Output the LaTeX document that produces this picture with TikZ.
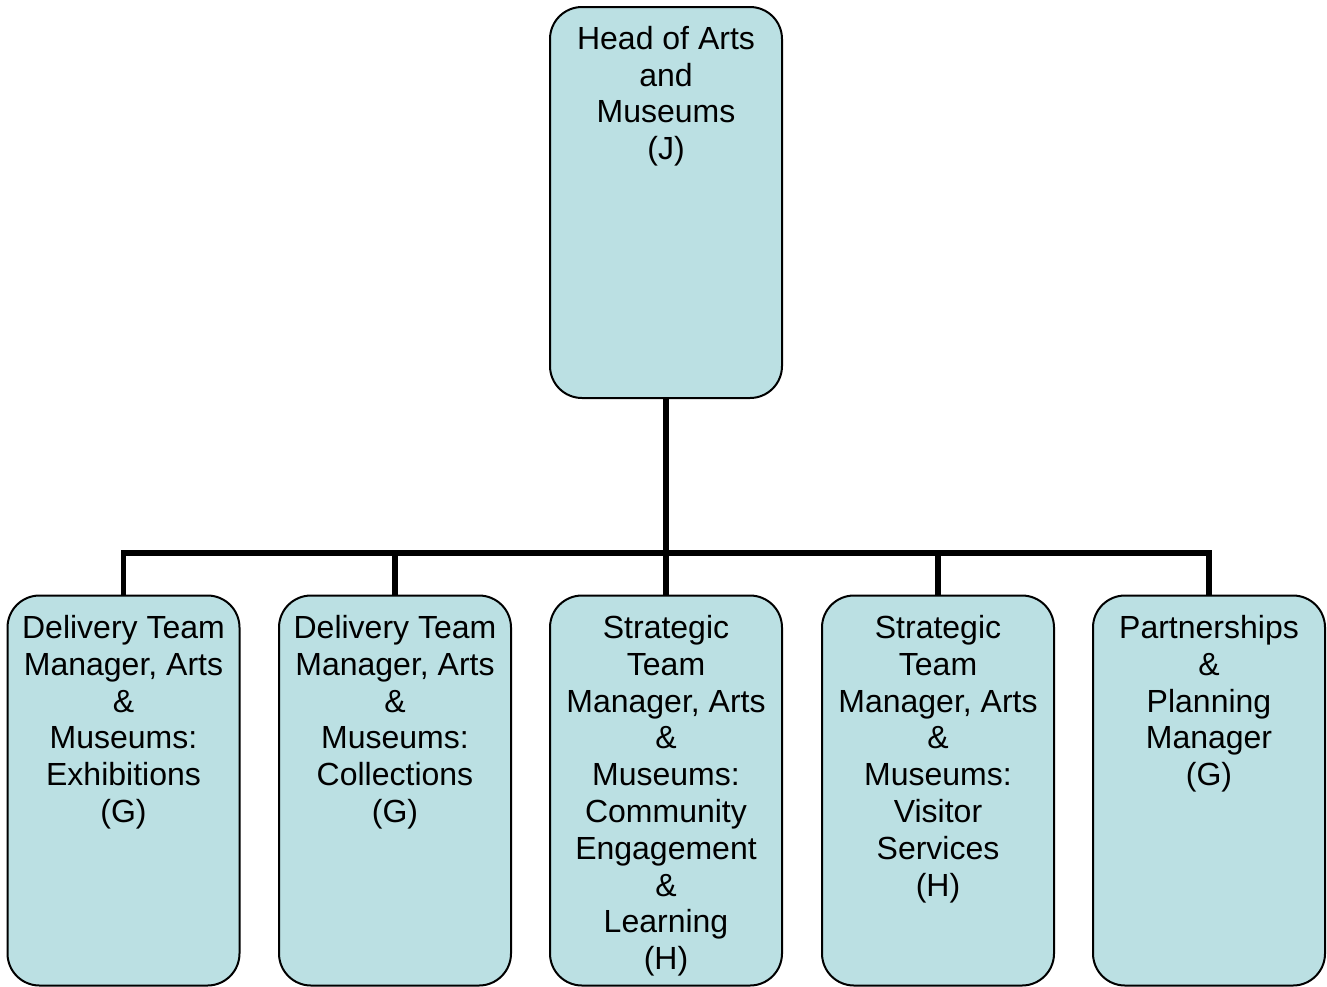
\documentclass[tikz,border=0pt]{standalone}
\usepackage{fontspec}
\setmainfont{Liberation Sans}
\definecolor{boxfill}{RGB}{187,224,227}
\begin{document}
\begin{tikzpicture}[x=1pt,y=-1pt,
  box/.style={draw=black,line width=2pt,fill=boxfill,rounded corners=32pt,
    minimum width=232pt,inner sep=0pt,outer sep=0pt},
  lbl/.style={anchor=north,align=center,inner sep=0pt,font=\fontsize{32}{36.8}\selectfont},
  conn/.style={line width=5.5pt,line join=miter}]
\useasboundingbox (0,0) rectangle (1327,986);
\node[box,minimum height=391pt] (top) at (666,202.5) {};
\node[box,minimum height=390pt] (b1) at (123.5,790.5) {};
\node[box,minimum height=390pt] (b2) at (395,790.5) {};
\node[box,minimum height=390pt] (b3) at (666,790.5) {};
\node[box,minimum height=390pt] (b4) at (938,790.5) {};
\node[box,minimum height=390pt] (b5) at (1209,790.5) {};
\coordinate (bus) at (666,553);
\draw[conn] (top.south) -- (top.south |- bus);
\draw[conn] (b1.north) -- (b1.north |- bus) -- (b5.north |- bus) -- (b5.north);
\draw[conn] (b2.north) -- (b2.north |- bus);
\draw[conn] (b3.north) -- (b3.north |- bus);
\draw[conn] (b4.north) -- (b4.north |- bus);
\node[lbl] (ttop) at ([yshift=-19pt]top.north) {Head of Arts\\and\\Museums\\(J)};
\node[lbl] (t1) at ([yshift=-19.5pt]b1.north) {Delivery Team\\Manager, Arts\\\&\\Museums:\\Exhibitions\\(G)};
\node[lbl] (t2) at ([yshift=-19.5pt]b2.north) {Delivery Team\\Manager, Arts\\\&\\Museums:\\Collections\\(G)};
\node[lbl] (t3) at ([yshift=-19.5pt]b3.north) {Strategic\\Team\\Manager, Arts\\\&\\Museums:\\Community\\Engagement\\\&\\Learning\\(H)};
\node[lbl] (t4) at ([yshift=-19.5pt]b4.north) {Strategic\\Team\\Manager, Arts\\\&\\Museums:\\Visitor\\Services\\(H)};
\node[lbl] (t5) at ([yshift=-19.5pt]b5.north) {Partnerships\\\&\\Planning\\Manager\\(G)};
\end{tikzpicture}
\end{document}
